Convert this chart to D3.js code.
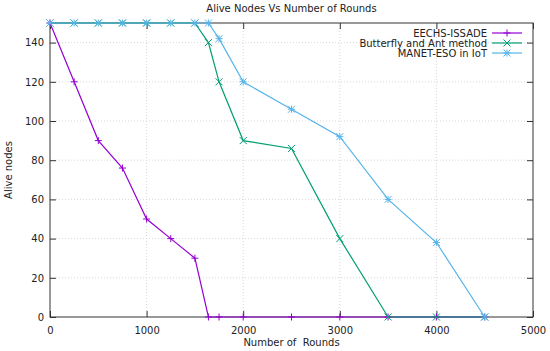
<!DOCTYPE html>
<html>
<head>
<meta charset="utf-8">
<script src="https://cdn.jsdelivr.net/npm/d3@7"></script>
<style>
  body { margin: 0; background: #fff; }
  text { font-family: "DejaVu Sans", Verdana, sans-serif; fill: #222; }
</style>
</head>
<body>
<svg width="550" height="351"></svg>
<script>
// series
var eechsX = [0, 250, 500, 750, 1000, 1250, 1500, 1640, 1750, 2000, 2500, 3000, 3500, 4000, 4500];
var eechsY = [150, 120, 90, 76, 50, 40, 30, 0, 0, 0, 0, 0, 0, 0, 0];
var butterflyX = [0, 250, 500, 750, 1000, 1250, 1500, 1640, 1750, 2000, 2500, 3000, 3500, 4000, 4500];
var butterflyY = [150, 150, 150, 150, 150, 150, 150, 140, 120, 90, 86, 40, 0, 0, 0];
var manetX = [0, 250, 500, 750, 1000, 1250, 1500, 1640, 1750, 2000, 2500, 3000, 3500, 4000, 4500];
var manetY = [150, 150, 150, 150, 150, 150, 150, 150, 142, 120, 106, 92, 60, 38, 0];
var seriesNames = ["EECHS-ISSADE", "Butterfly and Ant method", "MANET-ESO in IoT"];
var xTicks = [0, 1000, 2000, 3000, 4000, 5000];
var yTicks = [0, 20, 40, 60, 80, 100, 120, 140];

var svg = d3.select("svg"),
    margin = {left: 50, right: 17, top: 23, bottom: 34},
    width = +svg.attr("width"),
    height = +svg.attr("height");

var x = d3.scaleLinear().domain([0, 5000]).range([margin.left, width - margin.right]);
var y = d3.scaleLinear().domain([0, 150]).range([height - margin.bottom, margin.top]);

var series = [
  {name: seriesNames[0], xs: eechsX, ys: eechsY, color: "#9400d3", mark: "plus"},
  {name: seriesNames[1], xs: butterflyX, ys: butterflyY, color: "#009e73", mark: "cross"},
  {name: seriesNames[2], xs: manetX, ys: manetY, color: "#56b4e9", mark: "star"}
];

// grid
var grid = svg.append("g").attr("stroke", "#d8d8d8").attr("stroke-dasharray", "1,2").attr("stroke-width", 1);
xTicks.slice(1, -1).forEach(function(t) {
  grid.append("line").attr("x1", x(t)).attr("x2", x(t)).attr("y1", y(0)).attr("y2", y(150));
});
yTicks.slice(1).forEach(function(t) {
  grid.append("line").attr("x1", x(0)).attr("x2", x(5000)).attr("y1", y(t)).attr("y2", y(t));
});

// axes, gnuplot style: ticks inward and mirrored
var tick = 6;
svg.append("g").attr("transform", "translate(0," + y(0) + ")")
  .call(d3.axisBottom(x).tickValues(xTicks).tickSize(-tick).tickPadding(10).tickFormat(d3.format("d")));
svg.append("g").attr("transform", "translate(0," + y(150) + ")")
  .call(d3.axisTop(x).tickValues(xTicks).tickSize(-tick).tickFormat(""));
svg.append("g").attr("transform", "translate(" + x(0) + ",0)")
  .call(d3.axisLeft(y).tickValues(yTicks).tickSize(-tick).tickPadding(6));
svg.append("g").attr("transform", "translate(" + x(5000) + ",0)")
  .call(d3.axisRight(y).tickValues(yTicks).tickSize(-tick).tickFormat(""));
svg.selectAll(".domain").remove();
svg.selectAll(".tick line").attr("stroke", "#333");
svg.selectAll(".tick text").attr("font-size", 10).attr("font-family", "DejaVu Sans").attr("fill", "#222");

svg.append("rect")
  .attr("x", x(0)).attr("y", y(150))
  .attr("width", x(5000) - x(0)).attr("height", y(0) - y(150))
  .attr("fill", "none").attr("stroke", "#333").attr("stroke-width", 1);

function marker(g, kind, cx, cy, color) {
  var s = 3.5, p = [];
  if (kind === "plus" || kind === "star") p.push([[cx - s, cy], [cx + s, cy]], [[cx, cy - s], [cx, cy + s]]);
  if (kind === "cross" || kind === "star") p.push([[cx - s, cy - s], [cx + s, cy + s]], [[cx - s, cy + s], [cx + s, cy - s]]);
  p.forEach(function(seg) {
    g.append("line").attr("x1", seg[0][0]).attr("y1", seg[0][1]).attr("x2", seg[1][0]).attr("y2", seg[1][1])
      .attr("stroke", color).attr("stroke-width", 1);
  });
}

var line = d3.line().x(function(d) { return x(d[0]); }).y(function(d) { return y(d[1]); });

series.forEach(function(s) {
  var pts = s.xs.map(function(v, i) { return [v, s.ys[i]]; });
  svg.append("path").attr("d", line(pts)).attr("fill", "none")
    .attr("stroke", s.color).attr("stroke-width", 1.2);
  var g = svg.append("g");
  pts.forEach(function(d) { marker(g, s.mark, x(d[0]), y(d[1]), s.color); });
});

// legend
var legend = svg.append("g");
series.forEach(function(s, i) {
  var ly = 33 + i * 10;
  legend.append("text").attr("x", 487).attr("y", ly + 3.5).attr("text-anchor", "end")
    .attr("font-size", 10).text(s.name);
  legend.append("line").attr("x1", 492).attr("x2", 522).attr("y1", ly).attr("y2", ly)
    .attr("stroke", s.color).attr("stroke-width", 1.2);
  marker(legend, s.mark, 507, ly, s.color);
});

// titles
svg.append("text").attr("x", (x(0) + x(5000)) / 2).attr("y", 12).attr("text-anchor", "middle")
  .attr("font-size", 10).text("Alive Nodes Vs Number of Rounds");
svg.append("text").attr("x", (x(0) + x(5000)) / 2).attr("y", 346).attr("text-anchor", "middle")
  .attr("font-size", 10).attr("xml:space", "preserve").style("white-space", "pre").text("Number of  Rounds");
svg.append("text").attr("transform", "translate(12," + (y(0) + y(150)) / 2 + ") rotate(-90)")
  .attr("text-anchor", "middle").attr("font-size", 10).text("Alive nodes");
</script>
</body>
</html>
